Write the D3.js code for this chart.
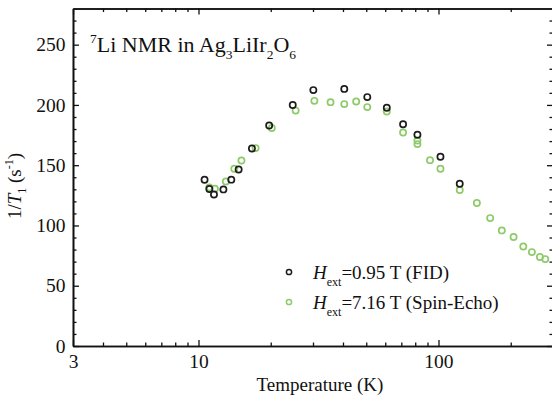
<!DOCTYPE html>
<html>
<head>
<meta charset="utf-8">
<script src="https://cdn.jsdelivr.net/npm/d3@7"></script>
<style>
  body { margin: 0; background: #fff; }
  text { font-family: "Liberation Serif", "DejaVu Serif", serif; fill: #111; }
</style>
</head>
<body>
<script>
// FID data, H = 0.95 T (black)
var fidTemp = [10.6, 11.1, 11.6, 12.7, 13.7, 14.7, 16.7, 19.7, 24.7, 30.1, 40.5, 50.5, 60.9, 71.2, 81.7, 101.9, 122.6];
var fidRate = [137.9, 130.2, 125.7, 129.9, 138, 146.4, 163.9, 182.9, 200, 212.3, 213.3, 206.5, 197.6, 184, 175.2, 157, 134.6];

// Spin-echo data, H = 7.16 T (green)
var echoTemp = [11.1, 11.7, 13.0, 14.1, 15.1, 17.3, 20.2, 25.4, 30.4, 35.5, 40.5, 45.4, 50.5, 60.9, 71.2, 81.7, 81.7, 92.2, 101.9, 122.6, 144.5, 164.2, 183.6, 205.5, 225.6, 245, 264.6, 278.6];
var echoRate = [131.5, 130.4, 136.5, 147, 153.9, 164.2, 180.8, 195.3, 203.4, 202.3, 200.7, 202.8, 198.2, 194.5, 177.1, 170.5, 167.5, 154.2, 147, 129.4, 118.6, 106.1, 95.9, 90.4, 82.6, 77.9, 73.8, 72.1];

// ticks
var xMajor = [3, 10, 100];
var xMinor = [4, 5, 6, 7, 8, 9, 20, 30, 40, 50, 60, 70, 80, 90, 200];
var yMajor = [0, 50, 100, 150, 200, 250];
var yMinor = [10, 20, 30, 40, 60, 70, 80, 90, 110, 120, 130, 140, 160, 170, 180, 190, 210, 220, 230, 240, 260, 270];

var width = 552, height = 398;
var pLeft = 73, pRight = 553, pTop = 8.5, pBottom = 346;

var black = "#1c1c1c", green = "#8dcb68";

var svg = d3.select("body").append("svg")
  .attr("width", width)
  .attr("height", height);

var x = d3.scaleLog().domain([3, 300]).range([pLeft, pRight]);
var y = d3.scaleLinear().domain([0, 280]).range([pBottom, pTop]);

function styleAxis(g) {
  g.select(".domain").attr("stroke", "#111").attr("stroke-width", 1.6);
  g.selectAll(".tick line").attr("stroke", "#111").attr("stroke-width", 1.3);
  g.selectAll("text").attr("font-size", 19.5).attr("fill", "#111")
    .attr("font-family", "Liberation Serif");
}

// bottom
svg.append("g").attr("transform", "translate(0," + pBottom + ")")
  .call(d3.axisBottom(x).tickValues(xMajor).tickFormat(d3.format("d"))
    .tickSizeInner(-6).tickSizeOuter(0).tickPadding(8.5))
  .call(styleAxis);
svg.append("g").attr("transform", "translate(0," + pBottom + ")")
  .call(d3.axisBottom(x).tickValues(xMinor).tickFormat("")
    .tickSizeInner(-3.5).tickSizeOuter(0))
  .call(styleAxis);
// top
svg.append("g").attr("transform", "translate(0," + pTop + ")")
  .call(d3.axisTop(x).tickValues(xMajor).tickFormat("").tickSizeInner(-6).tickSizeOuter(0))
  .call(styleAxis);
svg.append("g").attr("transform", "translate(0," + pTop + ")")
  .call(d3.axisTop(x).tickValues(xMinor).tickFormat("").tickSizeInner(-3.5).tickSizeOuter(0))
  .call(styleAxis);
// left
svg.append("g").attr("transform", "translate(" + pLeft + ",0)")
  .call(d3.axisLeft(y).tickValues(yMajor).tickSizeInner(-6).tickSizeOuter(0).tickPadding(7.5))
  .call(styleAxis);
svg.append("g").attr("transform", "translate(" + pLeft + ",0)")
  .call(d3.axisLeft(y).tickValues(yMinor).tickFormat("").tickSizeInner(-3.5).tickSizeOuter(0))
  .call(styleAxis);
// right
svg.append("g").attr("transform", "translate(" + pRight + ",0)")
  .call(d3.axisRight(y).tickValues(yMajor).tickFormat("").tickSizeInner(-6).tickSizeOuter(0))
  .call(styleAxis);
svg.append("g").attr("transform", "translate(" + pRight + ",0)")
  .call(d3.axisRight(y).tickValues(yMinor).tickFormat("").tickSizeInner(-3.5).tickSizeOuter(0))
  .call(styleAxis);

// data points, green first so black sits on top
svg.append("g").selectAll("circle").data(echoTemp)
  .enter().append("circle")
  .attr("cx", function(d) { return x(d); })
  .attr("cy", function(d, i) { return y(echoRate[i]); })
  .attr("r", 3.1)
  .attr("fill", "none")
  .attr("stroke", green)
  .attr("stroke-width", 1.7);

svg.append("g").selectAll("circle").data(fidTemp)
  .enter().append("circle")
  .attr("cx", function(d) { return x(d); })
  .attr("cy", function(d, i) { return y(fidRate[i]); })
  .attr("r", 3.1)
  .attr("fill", "none")
  .attr("stroke", black)
  .attr("stroke-width", 1.7);

// title
var title = svg.append("text").attr("x", 90).attr("y", 52).attr("font-size", 22);
title.append("tspan").attr("font-size", 13.5).attr("dy", -9).text("7");
title.append("tspan").attr("dy", 9).text("Li NMR in Ag");
title.append("tspan").attr("font-size", 13.5).attr("dy", 7).text("3");
title.append("tspan").attr("dy", -7).text("LiIr");
title.append("tspan").attr("font-size", 13.5).attr("dy", 7).text("2");
title.append("tspan").attr("dy", -7).text("O");
title.append("tspan").attr("font-size", 13.5).attr("dy", 7).text("6");

// y label
var ylab = svg.append("text")
  .attr("transform", "translate(21,186) rotate(-90)")
  .attr("text-anchor", "middle")
  .attr("font-size", 19);
ylab.append("tspan").text("1/");
ylab.append("tspan").attr("font-style", "italic").text("T");
ylab.append("tspan").attr("font-size", 12).attr("dy", 5).text("1");
ylab.append("tspan").attr("dy", -5).text(" (s");
ylab.append("tspan").attr("font-size", 12).attr("dy", -8).text("-1");
ylab.append("tspan").attr("dy", 8).text(")");

// x label
svg.append("text")
  .attr("x", 320).attr("y", 391)
  .attr("text-anchor", "middle")
  .attr("font-size", 19)
  .text("Temperature (K)");

// legend
var legend = [
  { color: black, value: "=0.95 T (FID)" },
  { color: green, value: "=7.16 T (Spin-Echo)" }
];
legend.forEach(function(d, i) {
  var ly = 272 + i * 30;
  svg.append("circle")
    .attr("cx", 289).attr("cy", ly).attr("r", 2.6)
    .attr("fill", "none").attr("stroke", d.color).attr("stroke-width", 1.5);
  var t = svg.append("text").attr("x", 313).attr("y", ly + 7).attr("font-size", 19);
  t.append("tspan").attr("font-style", "italic").text("H");
  t.append("tspan").attr("font-size", 12).attr("dy", 7).text("ext");
  t.append("tspan").attr("dy", -7).text(d.value);
});
</script>
</body>
</html>
